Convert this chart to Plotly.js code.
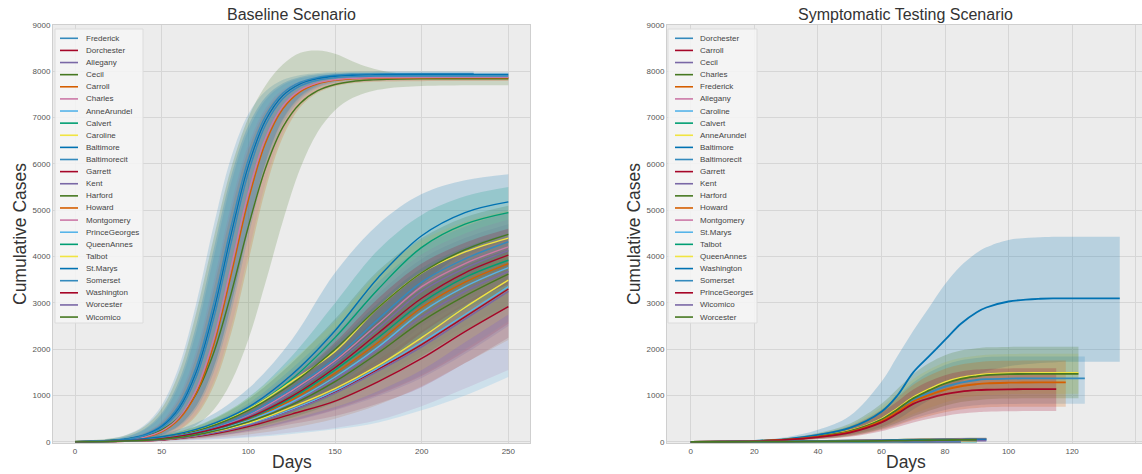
<!DOCTYPE html>
<html><head><meta charset="utf-8">
<script src="https://cdn.plot.ly/plotly-3.0.1.min.js"></script>
<style>html,body{margin:0;padding:0;background:#fff}#chart{width:1142px;height:474px}</style>
</head><body><div id="chart"></div>
<script>
// ---------------- DATA ----------------
const colorCycle = ['#348ABD','#A60628','#7A68A6','#467821','#D55E00','#CC79A7','#56B4E9','#009E73','#F0E442','#0072B2'];

const baseLegend = ['Frederick','Dorchester','Allegany','Cecil','Carroll','Charles','AnneArundel','Calvert','Caroline','Baltimore','Baltimorecit','Garrett','Kent','Harford','Howard','Montgomery','PrinceGeorges','QueenAnnes','Talbot','St.Marys','Somerset','Washington','Worcester','Wicomico'];
const testLegend = ['Dorchester','Carroll','Cecil','Charles','Frederick','Allegany','Caroline','Calvert','AnneArundel','Baltimore','Baltimorecit','Garrett','Kent','Harford','Howard','Montgomery','St.Marys','Talbot','QueenAnnes','Washington','Somerset','PrinceGeorges','Wicomico','Worcester'];

const baseXTicks = [0,50,100,150,200,250];
const testXTicks = [0,20,40,60,80,100,120,140];
const yTicks = [0,1000,2000,3000,4000,5000,6000,7000,8000,9000];

// Baseline, fast-growing counties
const fastDays = [0,20,30,40,50,60,70,80,90,100,110,120,130,140,150,160,170,180,200,230,250];
const baseFastCounties = ['Frederick','Baltimore','Baltimorecit','Charles','Carroll','Cecil'];
const baseFastMean = [
 [5,29,67,156,356,786,1623,2983,4644,6096,7035,7531,7765,7870,7916,7936,7944,7947,7950,7950],
 [5,27,62,143,328,726,1513,2820,4468,5958,6946,7478,7730,7843,7895,7915,7923,7927,7930,7930,7930],
 [4,24,57,131,300,670,1406,2660,4284,5808,6845,7411,7684,7806,7860,7885,7895,7898,7900,7900,7900],
 [3,19,44,102,234,528,1131,2219,3767,5372,6564,7253,7594,7750,7818,7848,7861,7866,7869,7870,7870],
 [3,17,40,93,215,485,1049,2084,3597,5216,6461,7194,7561,7729,7804,7836,7850,7855,7859,7860,7860],
 [6,28,59,125,260,530,1043,1922,3193,4647,5917,6799,7311,7581,7715,7781,7812,7826,7836,7840,7840]
];
const baseFastHigh = [
 [13,68,157,358,792,1632,3000,4672,6136,7080,7576,7816,7920,7966,7984,7992,7996,8000,8000,8000],
 [10,53,122,279,622,1325,2530,4158,5730,6831,7445,7741,7876,7935,7961,7972,7976,7978,7980,7980,7980],
 [9,48,112,257,576,1230,2383,3980,5577,6730,7384,7703,7848,7912,7939,7951,7956,7958,7960,7960,7960],
 [7,37,86,200,452,983,1975,3465,5115,6423,7208,7605,7787,7867,7903,7919,7925,7928,7930,7930,7930],
 [6,34,79,184,417,911,1845,3295,4950,6304,7136,7564,7762,7853,7891,7908,7914,7918,7920,7920,7920],
 [15,70,150,330,720,1500,2800,4400,5900,7000,7700,8150,8400,8450,8380,8220,8080,7990,7920,7900,7880]
];
const baseFastLow = [
 [2,13,28,67,154,351,777,1601,2944,4584,6021,6947,7434,7669,7772,7816,7834,7842,7850,7850],
 [2,13,28,67,154,352,780,1608,2955,4602,6044,6974,7462,7699,7801,7846,7864,7872,7880,7880,7880],
 [2,11,27,61,141,325,717,1497,2783,4422,5896,6868,7393,7644,7754,7803,7824,7833,7840,7840,7840],
 [2,9,22,51,119,273,608,1295,2473,4064,5600,6677,7277,7566,7699,7756,7781,7792,7800,7800,7800],
 [2,9,20,47,110,252,563,1204,2332,3895,5458,6586,7227,7538,7680,7743,7770,7781,7788,7790,7790],
 [3,12,23,46,92,184,362,693,1286,2210,3450,4774,5906,6691,7161,7423,7561,7631,7682,7700,7700]
];

// Baseline, slow-growing counties
const slowDays = [0,25,50,75,100,125,150,175,200,225,250];
const baseSlowCounties = ['St.Marys','Calvert','Harford','Caroline','Somerset','Montgomery','Allegany','Washington','QueenAnnes','Howard','PrinceGeorges','Kent','Wicomico','Talbot','AnneArundel','Worcester','Dorchester','Garrett'];
const baseSlowMean = [
 [0,25,110,330,750,1450,2400,3550,4450,4950,5180],
 [0,22,100,300,700,1350,2250,3300,4200,4700,4950],
 [0,20,90,290,680,1250,2000,2900,3650,4150,4480],
 [0,20,90,300,700,1300,1950,2900,3650,4100,4400],
 [0,18,80,260,600,1150,1800,2650,3450,3950,4320],
 [0,18,80,250,580,1100,1750,2550,3350,3850,4210],
 [0,17,75,240,560,1050,1700,2450,3250,3750,4130],
 [0,16,70,230,520,980,1600,2350,3100,3650,4030],
 [0,15,65,220,500,950,1550,2250,3000,3550,3920],
 [0,15,65,210,480,900,1480,2150,2900,3450,3850],
 [0,14,60,200,460,860,1400,2050,2800,3350,3760],
 [0,14,60,195,450,830,1350,2000,2700,3250,3680],
 [0,13,55,185,430,800,1300,1920,2600,3150,3620],
 [0,10,50,170,400,750,1150,1650,2250,2900,3490],
 [0,10,48,160,380,700,1100,1600,2150,2750,3350],
 [0,10,45,155,360,670,1050,1530,2050,2650,3250],
 [0,10,46,160,370,690,1080,1570,2100,2700,3300],
 [0,8,40,140,330,600,880,1300,1800,2380,2920]
];
const baseSlowHigh = [
 [0,40,170,500,1150,2200,3650,4700,5350,5650,5780],
 [0,32,140,420,960,1850,3000,4150,4900,5300,5500],
 [0,28,125,400,920,1700,2650,3700,4400,4850,5100],
 [0,28,125,410,950,1750,2600,3650,4350,4750,5000],
 [0,26,115,360,830,1580,2450,3450,4200,4650,4950],
 [0,25,110,340,790,1500,2350,3300,4050,4500,4800],
 [0,24,105,330,760,1430,2280,3200,3950,4400,4700],
 [0,22,98,315,710,1340,2150,3100,3850,4300,4600],
 [0,21,92,300,690,1300,2100,3000,3750,4200,4500],
 [0,21,90,290,660,1240,2000,2900,3650,4100,4400],
 [0,20,85,275,630,1180,1900,2800,3550,4000,4300],
 [0,19,83,270,615,1140,1850,2700,3400,3900,4200],
 [0,18,77,255,590,1100,1780,2600,3300,3800,4150],
 [0,14,70,235,550,1030,1580,2250,2950,3550,4050],
 [0,14,66,220,520,960,1500,2150,2850,3450,3950],
 [0,14,62,212,495,920,1440,2080,2750,3350,3850],
 [0,14,64,220,505,940,1470,2120,2800,3400,3900],
 [0,11,56,195,455,830,1220,1780,2400,3000,3500]
];
const baseSlowLow = [
 [0,15,70,220,480,950,1600,2500,3400,4100,4500],
 [0,14,65,200,460,900,1550,2450,3400,4000,4350],
 [0,13,60,190,450,820,1350,2100,2850,3400,3800],
 [0,13,60,200,460,870,1350,2100,2900,3400,3750],
 [0,11,52,170,390,750,1200,1900,2650,3200,3650],
 [0,5,20,50,110,200,300,470,770,1150,1550],
 [0,11,48,155,360,690,1130,1750,2500,3050,3500],
 [0,10,45,150,340,640,1060,1650,2350,2950,3400],
 [0,10,42,145,330,620,1020,1580,2250,2850,3300],
 [0,5,22,70,160,300,500,800,1200,1700,2200],
 [0,4,16,45,95,170,270,420,680,1000,1400],
 [0,9,39,128,295,545,890,1380,1950,2500,2950],
 [0,8,36,120,280,520,850,1300,1850,2400,2900],
 [0,6,32,110,260,490,750,1100,1550,2150,2750],
 [0,6,31,104,245,455,720,1050,1450,2000,2600],
 [0,6,29,100,232,435,680,990,1380,1900,2500],
 [0,6,30,103,240,450,700,1020,1420,1950,2550],
 [0,5,26,90,210,385,560,830,1180,1700,2250]
];

// Symptomatic testing scenario
const testDays = [0,10,20,30,40,50,60,65,70,75,80,85,90,93,100,110,115,118,122,124,135];
const testCounties = ['Baltimore','AnneArundel','Harford','Baltimorecit','Howard','PrinceGeorges','Charles','Washington','Montgomery','Frederick','Carroll','St.Marys','Cecil','Dorchester','Wicomico','Calvert','QueenAnnes','Allegany','Worcester','Talbot','Caroline','Somerset','Kent','Garrett'];
const testMean = [
 [0,5,20,60,150,300,650,1000,1500,1850,2200,2550,2800,2900,3030,3090,3097,3097,3097,3097,3097],
 [0,4,18,50,120,240,500,720,960,1140,1290,1385,1440,1460,1482,1489,1489,1489,1489],
 [0,4,17,48,115,230,480,700,940,1110,1260,1360,1415,1440,1462,1467,1467,1467,1467],
 [0,4,17,47,112,225,470,680,910,1060,1190,1280,1335,1352,1366,1372,1372,1372,1372,1372],
 [0,4,16,45,108,215,450,650,870,1010,1120,1200,1245,1263,1277,1285,1285,1285],
 [0,4,15,42,100,200,420,610,820,940,1030,1085,1115,1125,1134,1139,1139],
 [0,2,6,12,20,28,38,43,48,53,57,61,64,66],
 [0,2,5,10,17,24,32,36,40,44,47,50,52,53],
 [0,2,6,11,19,27,36,40,45,49,53,56,58,59],
 [0,2,5,10,16,22,29,33,37,40,43,45,47],
 [0,1,4,8,13,18,24,27,30,33,35,37,38],
 [0,1,4,8,12,17,22,25,28,31,33,35,36,37],
 [0,1,3,6,10,14,19,21,24,26,28,29,30],
 [0,1,3,5,9,12,16,18,20,22,24,25,26],
 [0,1,3,6,9,13,17,19,21,23,24,25,26,27],
 [0,1,2,4,7,10,13,15,17,18,20,21,22],
 [0,1,2,4,6,9,12,13,15,16,17,18,19],
 [0,0,2,3,5,7,10,11,12,13,14,15,16],
 [0,1,3,6,10,15,22,26,30,34,38,42,45],
 [0,0,1,3,4,6,8,9,10,11,12,12,13],
 [0,0,1,2,4,5,7,8,9,10,10,11,11],
 [0,0,1,2,3,4,6,7,7,8,8,9],
 [0,0,1,2,3,4,5,6,6,7,7,8],
 [0,0,1,1,2,3,4,5,5,6,6,7]
];
const testHigh = [
 [0,8,35,100,260,560,1300,1850,2400,2900,3400,3800,4080,4200,4360,4420,4430,4430,4430,4430,4430],
 [0,6,26,75,180,360,760,1050,1350,1560,1720,1810,1860,1880,1895,1900,1900,1900,1900],
 [0,7,28,80,190,390,820,1140,1460,1700,1870,1970,2020,2040,2050,2055,2055,2055,2055],
 [0,6,25,70,170,340,700,980,1280,1500,1660,1760,1810,1830,1840,1845,1845,1845,1845,1845],
 [0,6,24,68,165,330,680,950,1230,1430,1580,1670,1720,1740,1750,1755,1755,1755],
 [0,6,22,63,150,300,630,870,1130,1310,1440,1520,1560,1575,1585,1590,1590],
 [0,4,10,19,30,42,56,63,70,77,82,88,92,95],
 [0,3,8,15,26,36,48,54,60,66,70,75,78,80],
 [0,3,9,17,29,40,54,60,67,73,79,83,86,88],
 [0,3,8,15,24,33,44,50,56,60,65,68,71],
 [0,2,6,12,20,27,36,41,45,50,53,56,57],
 [0,2,6,12,18,26,33,38,42,47,50,53,54,56],
 [0,2,5,9,15,21,29,32,36,39,42,44,45],
 [0,2,5,8,14,18,24,27,30,33,36,38,39],
 [0,2,5,9,14,20,26,29,32,35,36,38,39,41],
 [0,2,3,6,11,15,20,23,26,27,30,32,33],
 [0,1,3,6,9,14,18,20,23,24,26,27,29],
 [0,1,3,5,8,11,15,17,18,20,21,23,24],
 [0,2,5,10,16,24,34,40,46,52,58,63,67],
 [0,1,2,5,6,9,12,14,15,17,18,18,20],
 [0,1,2,3,6,8,11,12,14,15,15,17,17],
 [0,1,2,3,5,6,9,11,11,12,12,14],
 [0,1,2,3,5,6,8,9,9,11,11,12],
 [0,1,2,2,3,5,6,8,8,9,9,11]
];
const testLow = [
 [0,3,12,35,80,160,320,480,700,900,1100,1300,1450,1520,1630,1700,1720,1728,1728,1728,1728],
 [0,2,11,30,75,150,320,450,600,730,850,940,990,1010,1030,1040,1040,1040,1040],
 [0,2,10,28,68,135,290,410,550,670,780,860,900,920,935,940,940,940,940],
 [0,2,10,27,64,128,270,380,500,600,690,750,790,805,815,820,820,820,820,820],
 [0,2,9,26,60,120,255,360,470,560,640,700,730,745,755,760,760,760],
 [0,2,8,23,55,110,230,320,420,500,560,610,640,650,660,665,665],
 [0,1,3,7,12,17,23,26,29,32,35,37,39,40],
 [0,1,3,6,10,14,19,21,24,26,28,30,31,32],
 [0,1,3,6,11,16,21,24,27,29,31,33,34,35],
 [0,1,3,6,9,13,17,19,22,24,25,27,28],
 [0,1,2,5,8,11,14,16,18,19,21,22,23],
 [0,0,2,4,7,10,13,15,16,18,19,20,21,22],
 [0,0,2,3,6,8,11,12,14,15,16,17,18],
 [0,0,1,3,5,7,9,10,12,13,14,15,15],
 [0,0,1,3,5,7,10,11,12,13,14,15,15,16],
 [0,0,1,2,4,6,8,9,10,11,12,12,13],
 [0,0,1,2,3,5,7,8,9,9,10,11,11],
 [0,0,1,2,3,4,6,6,7,8,8,9,9],
 [0,1,2,3,5,8,12,15,18,21,24,27,29],
 [0,0,1,2,2,3,5,5,6,6,7,7,8],
 [0,0,0,1,2,3,4,5,5,6,6,6,7],
 [0,0,0,1,2,2,3,4,4,5,5,5],
 [0,0,0,1,2,2,3,3,3,4,4,5],
 [0,0,0,1,1,2,2,3,3,3,3,4]
];

// ---------------- DRAWING ----------------
const W = 1142, H = 474;
const PX = x => x / W, PY = y => 1 - y / H;
const FONT = 'Liberation Sans, Arial, Helvetica, sans-serif';

function rgba(hex, a) {
  const n = parseInt(hex.slice(1), 16);
  return `rgba(${(n>>16)&255},${(n>>8)&255},${n&255},${a})`;
}

// collect series by county name, then draw in legend order
function collect(days, names, mean, low, high) {
  const m = {};
  names.forEach((n, i) => { m[n] = {days, mean: mean[i], low: low[i], high: high[i]}; });
  return m;
}
const bandTraces = [], lineTraces = [];
function drawChart(series, legend, xa, ya, alpha, lw) {
  legend.forEach((n, idx) => {
    const s = series[n]; if (!s) return;
    const c = colorCycle[idx % 10];
    bandTraces.push({type:'scatter', mode:'lines', x: s.days.slice(0, s.low.length), y: s.low,
      xaxis: xa, yaxis: ya, line:{width:0, shape:'spline', color:c}, hoverinfo:'skip', showlegend:false});
    bandTraces.push({type:'scatter', mode:'lines', x: s.days.slice(0, s.high.length), y: s.high,
      xaxis: xa, yaxis: ya, fill:'tonexty', fillcolor: rgba(c, alpha),
      line:{width:0, shape:'spline', color:c}, hoverinfo:'skip', showlegend:false});
    lineTraces.push({type:'scatter', mode:'lines', name:n, x: s.days.slice(0, s.mean.length), y: s.mean,
      xaxis: xa, yaxis: ya, line:{width: lw, shape:'spline', color:c}, showlegend:false});
  });
}
const baseSeries = Object.assign(
  collect(slowDays, baseSlowCounties, baseSlowMean, baseSlowLow, baseSlowHigh),
  collect(fastDays, baseFastCounties, baseFastMean, baseFastLow, baseFastHigh));
const testSeries = collect(testDays, testCounties, testMean, testLow, testHigh);
drawChart(baseSeries, baseLegend, 'x', 'y', 0.2, 1.4);
drawChart(testSeries, testLegend, 'x2', 'y2', 0.22, 1.8);

const shapes = [], annotations = [];
function legend(names, boxL, boxR, lineL, lineR, textX) {
  shapes.push({type:'rect', xref:'paper', yref:'paper', x0:PX(boxL), x1:PX(boxR), y0:PY(29), y1:PY(323),
    fillcolor:'rgba(246,246,246,0.85)', line:{color:'#dcdcdc', width:1}, layer:'above'});
  names.forEach((n, i) => {
    const y = 38.3 + i * 12.12;
    shapes.push({type:'line', xref:'paper', yref:'paper', x0:PX(lineL), x1:PX(lineR), y0:PY(y), y1:PY(y),
      line:{color: colorCycle[i % 10], width:1.6}, layer:'above'});
    annotations.push({xref:'paper', yref:'paper', x:PX(textX), y:PY(y), xanchor:'left', yanchor:'middle',
      text:n, showarrow:false, font:{family:FONT, size:8, color:'#444'}});
  });
}
legend(baseLegend, 55, 143, 60, 78, 84);
legend(testLegend, 668, 757, 675, 693, 698);

function label(text, x, y, size, angle) {
  annotations.push({xref:'paper', yref:'paper', x:PX(x), y:PY(y), xanchor:'center', yanchor:'middle',
    text, showarrow:false, textangle: angle || 0, font:{family:FONT, size, color:'#333'}});
}
label('Baseline Scenario', 291.5, 15, 16);
label('Symptomatic Testing Scenario', 905.5, 15, 16);
label('Days', 291.5, 462, 17.5);
label('Days', 905.5, 462, 17.5);
label('Cumulative Cases', 20, 234, 17.5, -90);
label('Cumulative Cases', 634, 234, 17.5, -90);

const axisCommon = {gridcolor:'#d6d6d6', gridwidth:1, showline:true, mirror:true, linecolor:'#cfcfcf', linewidth:1,
  zeroline:false, ticks:'', tickfont:{family:FONT, size:8, color:'#555'}, tickmode:'array', fixedrange:true};
const layout = {
  width: W, height: H, margin:{l:0, r:0, t:0, b:0}, paper_bgcolor:'#ffffff', plot_bgcolor:'#ececec',
  showlegend:false, font:{family:FONT, size:8, color:'#555'},
  xaxis: Object.assign({}, axisCommon, {domain:[PX(53), PX(530)], range:[-12.7, 262.5], tickvals: baseXTicks, anchor:'y'}),
  yaxis: Object.assign({}, axisCommon, {domain:[PY(443), PY(25)], range:[-25, 9000], tickvals: yTicks, tickformat:'d', anchor:'x'}),
  xaxis2: Object.assign({}, axisCommon, {domain:[PX(667), 1], range:[-7.5, 142], tickvals: testXTicks, anchor:'y2'}),
  yaxis2: Object.assign({}, axisCommon, {domain:[PY(443), PY(25)], range:[-25, 9000], tickvals: yTicks, tickformat:'d', anchor:'x2'}),
  shapes, annotations
};
Plotly.newPlot('chart', bandTraces.concat(lineTraces), layout, {displayModeBar:false, staticPlot:true});
</script></body></html>
